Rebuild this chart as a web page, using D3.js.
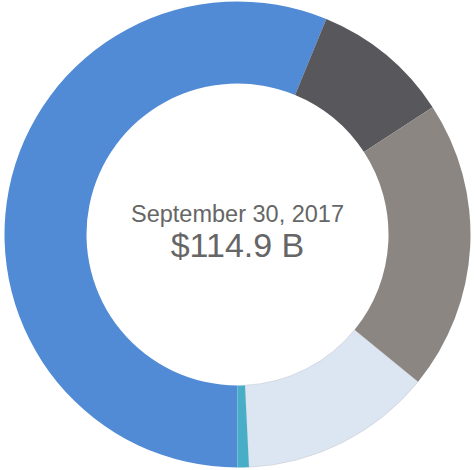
<!DOCTYPE html>
<html>
<head>
<meta charset="utf-8">
<script src="https://cdn.jsdelivr.net/npm/d3@7"></script>
<style>
  html, body { margin: 0; padding: 0; background: #fff; }
  svg { display: block; }
</style>
</head>
<body>
<svg id="chart" width="475" height="470"></svg>
<script>
// Data (billions of dollars), clockwise from the bottom of the ring
const categories = ["Segment A", "Segment B", "Segment C", "Segment D", "Segment E"];
const values = [64.6, 11.0, 23.1, 15.3, 0.9];
const colors = ["#518bd5", "#58575c", "#8b8682", "#dce6f2", "#48adc6"];
const dateLabel = "September 30, 2017";
const totalLabel = "$114.9 B";

const svg = d3.select("#chart");
const cx = 237.5, cy = 234.5;
const outerR = 233, innerR = 151;

const pie = d3.pie()
  .sort(null)
  .value(d => d.value)
  .startAngle(Math.PI)
  .endAngle(Math.PI * 3);

const data = categories.map((c, i) => ({ name: c, value: values[i], color: colors[i] }));

const arc = d3.arc().innerRadius(innerR).outerRadius(outerR);

const g = svg.append("g").attr("transform", `translate(${cx},${cy})`);

g.selectAll("path.slice")
  .data(pie(data))
  .join("path")
  .attr("class", "slice")
  .attr("d", arc)
  .attr("fill", d => d.data.color)
  .attr("stroke", d => d.data.name === "Segment D" ? "#c9cdd3" : "none")
  .attr("stroke-width", 0.6);

g.append("text")
  .attr("x", 0)
  .attr("y", -12.5)
  .attr("text-anchor", "middle")
  .attr("font-family", "Liberation Sans, Arial, sans-serif")
  .attr("font-size", 23.5)
  .attr("fill", "#666666")
  .text(dateLabel);

g.append("text")
  .attr("x", 0)
  .attr("y", 22)
  .attr("text-anchor", "middle")
  .attr("font-family", "Liberation Sans, Arial, sans-serif")
  .attr("font-size", 34)
  .attr("fill", "#666666")
  .text(totalLabel);
</script>
</body>
</html>
